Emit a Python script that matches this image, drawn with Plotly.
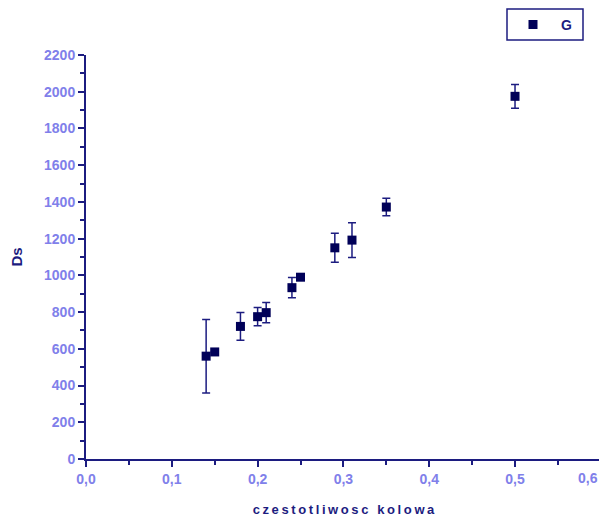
import plotly.graph_objects as go

freq = [0.14, 0.15, 0.18, 0.20, 0.21, 0.24, 0.25, 0.29, 0.31, 0.35, 0.50]
ds = [560, 583, 722, 775, 797, 933, 990, 1150, 1192, 1372, 1975]
ds_err = [200, 0, 76, 50, 55, 55, 0, 79, 95, 48, 65]
series_name = "G"
x_title = "czestotliwosc kolowa"
y_title = "Ds"
x_ticks = [0.0, 0.1, 0.2, 0.3, 0.4, 0.5, 0.6]
x_tick_labels = ["0,0", "0,1", "0,2", "0,3", "0,4", "0,5", "0,6"]

navy = "#1c1c80"
mark_col = "#000058"
tick_col = "#8080ea"

# page has an 8px body margin; plot area on screen: x 86..601, y 55..459
OFF = 8
def px_x(p):
    return (p - 86) / 515.0

def px_y(p):
    return (459 - p) / 404.0

spaced_title = "\u2009".join(list(x_title))
# last label sits on the right page edge: draw it right-aligned so it stays visible
shown_labels = x_tick_labels[:-1] + [""]

fig = go.Figure()
fig.add_trace(go.Scatter(
    x=freq, y=ds, mode="markers", name=series_name, showlegend=False,
    marker=dict(symbol="square", size=9, color=mark_col),
    error_y=dict(type="data", array=ds_err, visible=True, color=navy,
                 thickness=1.5, width=4),
))

fig.add_annotation(xref="paper", yref="paper", x=px_x(600), y=px_y(478),
                   text=x_tick_labels[-1], showarrow=False,
                   xanchor="right", yanchor="middle",
                   font=dict(size=14, color=tick_col, weight="bold"))

# legend box drawn manually
fig.add_shape(type="rect", xref="paper", yref="paper",
              x0=px_x(507), x1=px_x(583), y0=px_y(40), y1=px_y(9),
              line=dict(color=navy, width=1.5), fillcolor="white")
fig.add_shape(type="rect", xref="paper", yref="paper",
              x0=px_x(528.5), x1=px_x(537.5), y0=px_y(29), y1=px_y(20),
              line=dict(color=mark_col, width=0), fillcolor=mark_col)
fig.add_annotation(xref="paper", yref="paper", x=px_x(566), y=px_y(24.5),
                   text=series_name, showarrow=False, xanchor="center", yanchor="middle",
                   font=dict(size=14, color=navy, weight="bold"))

fig.update_layout(
    width=607 - OFF, height=519 - OFF,
    margin=dict(l=86 - OFF, r=6, t=55 - OFF, b=60, autoexpand=False),
    plot_bgcolor="white", paper_bgcolor="white",
    font=dict(family="Liberation Sans, Arial, sans-serif"),
    showlegend=False,
    xaxis=dict(range=[0, 0.6002], tickmode="array", tickvals=x_ticks,
               ticktext=shown_labels, automargin=False, ticklabeloverflow="allow",
               showgrid=False, zeroline=False, showline=True,
               linecolor=navy, linewidth=2, ticks="outside",
               ticklen=6, tickwidth=2, tickcolor=navy,
               tickfont=dict(size=14, color=tick_col, weight="bold"),
               minor=dict(dtick=0.05, tick0=0, ticks="outside", ticklen=4,
                          tickcolor=navy, tickwidth=2),
               title=dict(text=spaced_title,
                          font=dict(size=13, color=navy, weight="bold"), standoff=19)),
    yaxis=dict(range=[0, 2200], dtick=200, automargin=False,
               showgrid=False, zeroline=False, showline=True,
               linecolor=navy, linewidth=2, ticks="outside",
               ticklen=6, tickwidth=2, tickcolor=navy,
               tickfont=dict(size=14, color=tick_col, weight="bold"),
               minor=dict(dtick=100, ticks="outside", ticklen=4,
                          tickcolor=navy, tickwidth=2),
               title=dict(text=y_title, font=dict(size=15, color=navy, weight="bold"),
                          standoff=20)),
)

fig.write_html("out.html")
